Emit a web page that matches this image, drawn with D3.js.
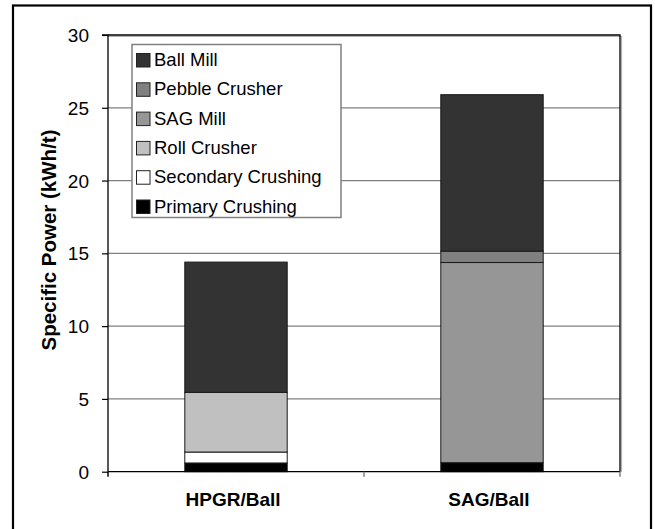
<!DOCTYPE html>
<html><head><meta charset="utf-8">
<script src="https://cdn.jsdelivr.net/npm/d3@7/dist/d3.min.js"></script>
<style>body{margin:0;background:#fff}svg{display:block}text{font-family:"Liberation Sans",Arial,sans-serif}</style>
</head><body><svg id="c" width="655" height="529"></svg>
<script>
const categories = ["HPGR/Ball", "SAG/Ball"];
const primaryCrushing = [0.6, 0.62];
const secondaryCrushing = [0.75, 0];
const rollCrusher = [4.1, 0];
const sagMill = [0, 13.75];
const pebbleCrusher = [0, 0.78];
const ballMill = [8.95, 10.75];
const seriesNames = ["Primary Crushing", "Secondary Crushing", "Roll Crusher", "SAG Mill", "Pebble Crusher", "Ball Mill"];
const seriesValues = [primaryCrushing, secondaryCrushing, rollCrusher, sagMill, pebbleCrusher, ballMill];
const seriesColors = ["#000000", "#ffffff", "#c0c0c0", "#969696", "#808080", "#333333"];
const yTicks = [0, 5, 10, 15, 20, 25, 30];

const FONT = "'Liberation Sans', Arial, sans-serif";
const svg = d3.select("#c");
const L = 108, R = 620, T = 35, B = 471.7;

// outer frame
svg.append("rect").attr("x", 13).attr("y", 5.5).attr("width", 638).attr("height", 540)
  .attr("fill", "#fff").attr("stroke", "#000").attr("stroke-width", 2.2);

const x = d3.scaleBand().domain(categories).range([L, R]).paddingInner(0.6).paddingOuter(0.3);
const xc = d3.scaleBand().domain(categories).range([L, R]).padding(0);
const y = d3.scaleLinear().domain([0, 30]).range([B, T]);

// gridlines
svg.append("g").selectAll("line").data(yTicks.filter(t => t > 0 && t < 30)).join("line")
  .attr("x1", L).attr("x2", R).attr("y1", d => y(d)).attr("y2", d => y(d))
  .attr("stroke", "#808080").attr("stroke-width", 1.2);

// plot border top/right with shadow
svg.append("path").attr("d", `M${L},${y(30)+1.5}H${R+1.5}V${B}`).attr("fill", "none").attr("stroke", "#b0b0b0").attr("stroke-width", 1.2);
svg.append("path").attr("d", `M${L},${y(30)}H${R}V${B}`).attr("fill", "none").attr("stroke", "#000").attr("stroke-width", 1.3);

// stacked data
const rows = categories.map((c, i) => {
  const o = {cat: c};
  seriesNames.forEach((s, j) => o[s] = seriesValues[j][i]);
  return o;
});
const stacked = d3.stack().keys(seriesNames)(rows);
const colorOf = d3.scaleOrdinal().domain(seriesNames).range(seriesColors);

svg.append("g").selectAll("g").data(stacked).join("g")
  .attr("fill", d => colorOf(d.key))
  .selectAll("rect").data(d => d.filter(p => p[1] - p[0] > 0)).join("rect")
  .attr("x", d => x(d.data.cat)).attr("width", x.bandwidth())
  .attr("y", d => y(d[1])).attr("height", d => y(d[0]) - y(d[1]))
  .attr("stroke", "#1a1a1a").attr("stroke-width", 1);

// y axis
const yAxis = d3.axisLeft(y).tickValues(yTicks).tickSize(6).tickPadding(13);
const ya = svg.append("g").attr("transform", `translate(${L},0)`).call(yAxis);
ya.attr("font-family", FONT);
ya.select(".domain").attr("stroke", "#000").attr("stroke-width", 1.3).attr("d", `M-6,${T}H0V${B}`);
ya.selectAll(".tick line").attr("stroke", "#000").attr("stroke-width", 1.2);
ya.selectAll(".tick text").attr("font-size", 19).attr("fill", "#000").attr("font-family", FONT).attr("dy", "0.34em");

// x axis
const xa = svg.append("g").attr("transform", `translate(0,${B})`);
xa.append("line").attr("x1", L).attr("x2", R).attr("stroke", "#000").attr("stroke-width", 1.3);
const bounds = [L].concat(categories.map(c => xc(c) + xc.bandwidth()));
xa.selectAll("line.t").data(bounds).join("line").attr("class", "t")
  .attr("x1", d => d).attr("x2", d => d).attr("y1", 0).attr("y2", 5)
  .attr("stroke", d => d === L ? "#000" : "#808080").attr("stroke-width", 1.5);
xa.selectAll("text").data(categories).join("text")
  .attr("x", d => xc(d) + xc.bandwidth() / 2 - 3).attr("y", 34)
  .attr("text-anchor", "middle").attr("font-size", 19).attr("font-weight", "bold")
  .attr("font-family", FONT).text(d => d);

// y title
svg.append("text").attr("transform", `translate(56,240) rotate(-90)`)
  .attr("text-anchor", "middle").attr("font-size", 20.5).attr("font-weight", "bold")
  .attr("font-family", FONT).text("Specific Power (kWh/t)");

// legend
const lg = svg.append("g").attr("transform", "translate(132,44.5)");
lg.append("rect").attr("width", 209).attr("height", 173).attr("fill", "#fff").attr("stroke", "#808080").attr("stroke-width", 1.5);
const legendOrder = seriesNames.slice().reverse();
const li = lg.selectAll("g").data(legendOrder).join("g")
  .attr("transform", (d, i) => `translate(0,${8 + i * 29.3})`);
li.append("rect").attr("x", 4.5).attr("y", 1).attr("width", 13.5).attr("height", 13.5)
  .attr("fill", d => colorOf(d)).attr("stroke", "#222").attr("stroke-width", 1);
li.append("text").attr("x", 22).attr("y", 13.5).attr("font-size", 18.5).attr("fill", "#000")
  .attr("font-family", FONT).text(d => d);
</script></body></html>
